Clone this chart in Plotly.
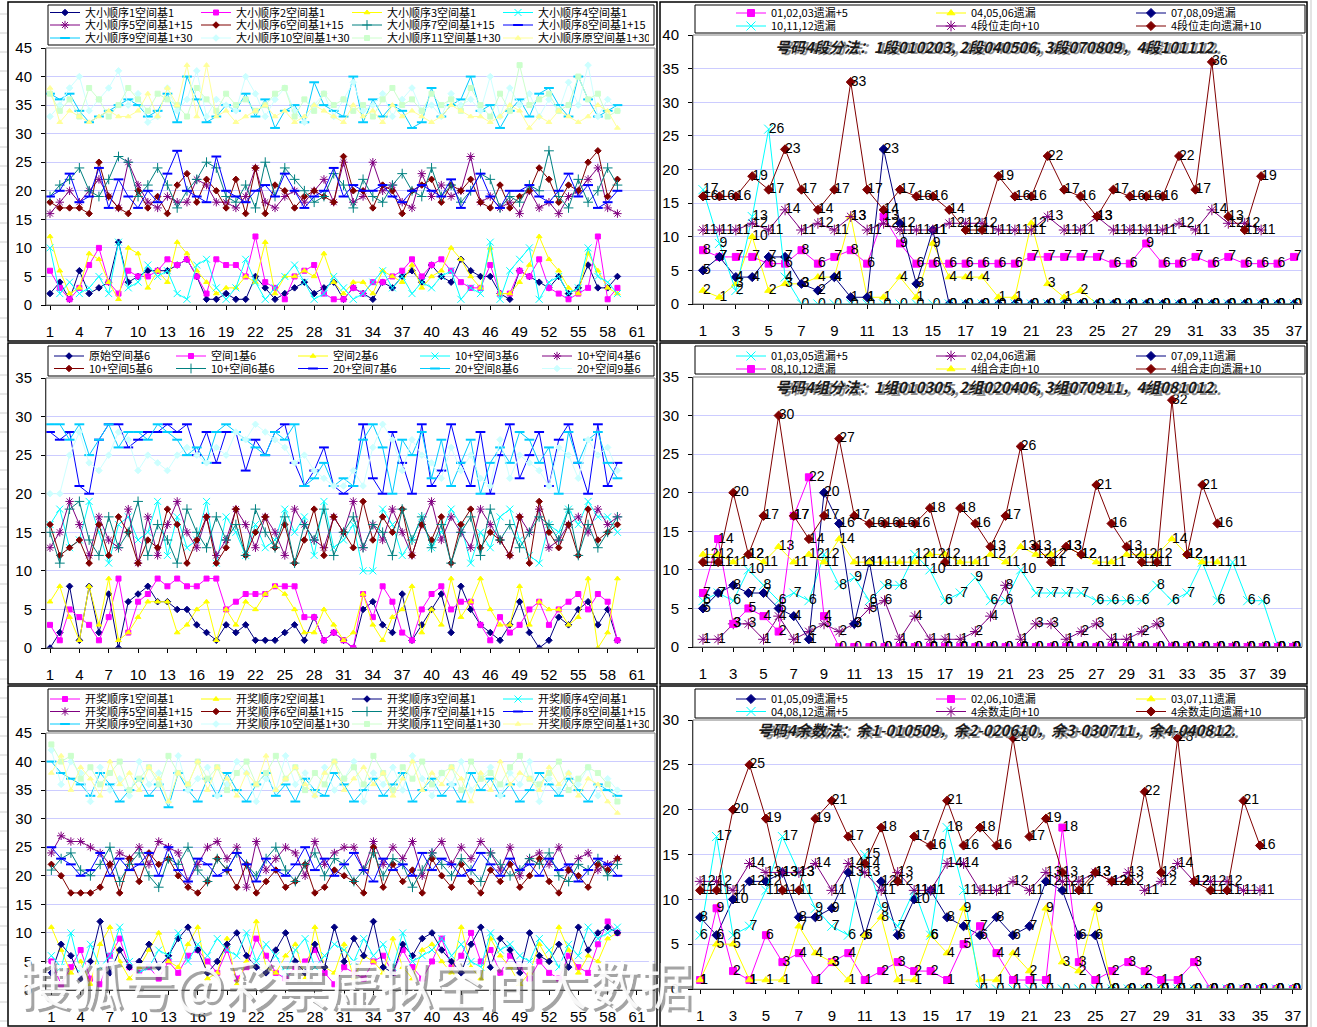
import plotly.graph_objects as go

W, H = 1317, 1027

# ----------------------------- DATA -----------------------------
# Top-left: 大小顺序
TL_NAMES = ["大小顺序1空间基1", "大小顺序2空间基1", "大小顺序3空间基1", "大小顺序4空间基1",
            "大小顺序5空间基1+15", "大小顺序6空间基1+15", "大小顺序7空间基1+15", "大小顺序8空间基1+15",
            "大小顺序9空间基1+30", "大小顺序10空间基1+30", "大小顺序11空间基1+30", "大小顺序原空间基1+30"]
TL_S1 = [2,4,1,6,2,3,4,11,4,5,6,6,6,7,8,5,1,1,2,1,1,5,3,1,2,3,4,2,3,4,1,3,2,1,4,3,5,6,4,7,5,4,8,6,5,5,2,1,6,5,4,3,5,2,3,7,3,3,5]
TL_S2 = [6,3,1,3,7,10,4,2,6,5,5,6,8,7,8,5,2,8,7,7,5,12,4,3,1,5,6,7,2,1,1,3,2,4,4,5,6,8,5,7,8,6,4,3,3,7,2,2,6,5,8,3,2,1,2,3,12,1,3]
TL_S3 = [12,6,2,3,9,8,4,1,10,9,3,6,4,11,9,6,4,2,3,3,5,4,11,2,5,5,6,5,9,4,2,4,4,2,6,5,4,7,3,5,6,10,8,5,3,10,2,2,4,7,12,8,6,3,2,9,6,3,2]
TL_S4 = [10,2,4,2,3,5,2,11,3,4,7,5,6,2,1,7,8,3,1,3,8,4,1,3,5,7,4,1,2,5,3,1,2,4,6,3,5,2,4,3,5,6,1,3,2,11,1,6,8,10,1,4,5,2,3,10,5,4,2]
TL_S5 = [16,18,20,18,20,22,19,17,25,21,18,17,19,18,18,22,21,18,18,17,19,24,18,17,19,20,18,20,22,18,25,18,19,25,20,21,18,17,23,19,21,19,20,26,18,19,17,18,16,20,17,18,16,19,20,22,24,17,16]
TL_S6 = [18,17,17,17,16,25,19,17,16,20,17,19,16,21,23,18,22,20,17,22,16,24,16,21,20,17,19,20,19,18,26,20,20,17,21,20,16,20,21,22,18,21,20,22,18,17,21,17,19,20,24,22,18,21,20,25,27,19,22]
TL_S7 = [19,21,22,24,20,19,22,26,25,19,21,24,21,17,20,22,25,24,19,18,21,17,25,19,24,22,20,18,19,23,21,17,22,19,18,21,23,20,19,24,19,21,18,20,23,22,17,19,18,21,20,27,19,17,22,18,20,24,21]
TL_S8 = [19,20,23,18,19,24,17,22,19,17,20,18,23,27,20,19,18,26,20,19,18,20,21,19,23,20,17,19,20,24,19,21,20,20,21,19,18,20,21,20,19,22,17,20,23,19,17,20,20,21,19,18,20,23,19,21,17,18,20]
TL_S9 = [37,36,37,34,32,33,34,35,36,35,33,34,37,32,40,36,32,33,35,34,37,33,36,31,34,35,32,39,35,34,33,40,32,36,33,35,34,31,32,38,33,35,36,40,34,35,31,34,36,33,37,38,35,33,40,36,33,34,35]
TL_S10 = [33,35,38,40,34,36,38,41,35,37,32,33,38,34,36,41,33,36,35,34,40,37,33,36,38,34,32,35,37,33,36,39,34,35,37,33,36,38,34,35,33,37,35,36,34,40,33,38,35,37,33,36,34,39,35,42,33,36,34]
TL_S11 = [37,34,36,33,38,36,33,35,38,36,34,37,36,35,33,38,36,34,37,35,36,34,35,37,38,33,36,34,37,35,36,34,35,33,36,38,35,36,34,37,35,36,34,38,35,33,37,34,42,35,36,37,34,35,40,36,37,33,34]
TL_S12 = [38,32,34,33,32,33,34,33,33,34,37,33,38,35,42,33,42,33,34,32,33,34,35,33,34,32,33,35,34,33,32,35,33,34,32,35,33,34,33,32,33,35,34,33,33,32,33,35,34,31,33,32,34,33,32,33,35,34,31]

# Middle-left: 空间基6
ML_NAMES = ["原始空间基6", "空间1基6", "空间2基6", "10+空间3基6", "10+空间4基6",
            "10+空间5基6", "10+空间6基6", "20+空间7基6", "20+空间8基6", "20+空间9基6"]
ML_S1 = [0,2,8,1,8,2,7,0,6,7,8,6,6,5,5,3,2,1,3,2,3,1,1,1,2,3,1,4,1,2,1,0,5,6,3,2,7,1,3,5,7,2,8,5,3,2,1,3,6,2,0,1,4,3,5,6,3,5,1]
ML_S2 = [3,1,5,4,3,1,4,9,2,6,7,9,8,9,8,8,9,9,5,6,7,7,7,8,8,8,4,4,1,2,1,0,7,4,8,6,2,1,5,7,8,5,6,6,3,1,4,2,3,5,6,3,5,6,7,5,7,6,1]
ML_S3 = [6,8,4,1,8,3,9,1,2,4,6,6,6,2,3,5,6,1,5,3,6,5,7,8,7,5,2,2,5,3,1,2,7,3,1,4,5,8,2,5,3,9,4,6,9,5,3,3,8,3,6,5,5,3,4,9,0,2,9]
ML_S4 = [16,18,13,14,19,15,11,16,17,14,15,19,12,17,13,14,19,11,17,15,12,16,13,14,18,15,17,12,19,13,14,16,10,10,18,16,12,14,17,13,15,18,16,11,15,13,17,18,14,12,11,16,15,18,16,19,17,17,15]
ML_S5 = [13,15,19,16,12,17,14,13,18,11,17,12,16,19,15,13,17,12,14,18,16,13,17,15,12,18,16,14,13,17,15,19,13,16,14,18,15,12,16,19,14,17,15,13,18,16,14,12,17,15,18,13,14,16,17,15,18,16,17]
ML_S6 = [16,12,13,14,11,16,12,17,15,11,14,13,18,16,11,14,17,11,13,18,12,15,17,13,16,11,14,18,12,17,15,13,19,14,17,15,18,12,16,14,17,11,16,18,13,15,14,12,17,11,19,15,13,16,12,18,14,15,16]
ML_S7 = [15,11,18,19,14,12,17,13,15,19,12,16,14,11,18,15,13,17,14,16,12,18,15,13,17,11,16,14,18,12,15,17,13,16,15,12,18,14,17,13,16,11,15,17,12,18,14,16,13,15,17,16,14,18,12,16,13,15,17]
ML_S8 = [28,27,28,21,20,27,29,29,26,27,28,28,29,28,29,25,28,24,28,28,23,27,25,28,29,24,21,23,26,21,20,21,29,22,20,28,24,20,29,21,23,29,24,21,28,20,25,29,22,25,28,21,27,29,24,20,29,21,24]
ML_S9 = [29,29,27,29,25,27,29,26,28,28,27,29,28,27,25,26,24,28,29,28,27,26,25,28,27,29,21,22,24,21,22,21,27,29,26,20,27,25,28,22,27,21,24,27,20,24,26,24,28,27,24,26,20,28,24,27,28,24,22]
ML_S10 = [20,20,25,28,24,23,25,28,27,23,25,24,23,25,26,25,24,26,25,28,27,29,28,27,26,24,25,23,22,21,21,23,21,26,29,27,23,27,25,24,22,26,23,25,22,21,27,22,25,24,23,21,26,25,22,27,25,26,23]

# Bottom-left: 开奖顺序
BL_NAMES = ["开奖顺序1空间基1", "开奖顺序2空间基1", "开奖顺序3空间基1", "开奖顺序4空间基1",
            "开奖顺序5空间基1+15", "开奖顺序6空间基1+15", "开奖顺序7空间基1+15", "开奖顺序8空间基1+15",
            "开奖顺序9空间基1+30", "开奖顺序10空间基1+30", "开奖顺序11空间基1+30", "开奖顺序原空间基1+30"]
BL_S1 = [5,1,4,7,2,1,6,9,4,3,4,2,5,3,6,7,5,3,7,2,4,9,6,3,2,4,5,7,3,1,4,3,2,5,6,3,7,4,2,5,9,4,6,10,5,7,3,6,4,2,5,3,2,6,4,3,8,12,10]
BL_S2 = [11,7,3,5,1,8,11,5,2,4,7,10,5,4,8,11,2,3,9,1,5,12,4,3,6,8,2,11,4,3,8,2,6,5,3,9,4,2,7,8,5,3,11,4,2,9,6,4,1,3,8,5,11,7,3,6,5,9,10]
BL_S3 = [3,8,6,2,5,12,3,7,4,5,8,4,6,9,11,7,3,5,8,10,6,4,3,7,10,5,3,8,4,11,5,9,6,12,4,3,8,6,9,10,7,5,3,8,11,4,9,7,3,10,6,5,8,4,11,7,10,11,10]
BL_S4 = [6,4,10,3,8,4,6,11,5,3,4,7,6,10,5,8,6,9,7,6,10,5,8,6,3,7,9,4,6,8,7,5,9,6,8,4,10,5,6,7,9,6,8,5,4,10,7,8,6,5,9,7,4,8,6,11,9,10,11]
BL_S5 = [24,27,26,26,25,24,22,24,23,25,22,26,25,24,19,22,25,26,23,25,18,26,21,23,25,24,20,26,22,24,25,25,21,26,22,25,23,26,20,24,26,22,25,23,26,24,21,25,20,23,24,22,25,21,23,24,21,22,23]
BL_S6 = [22,20,17,17,17,18,22,17,23,19,24,22,23,20,18,17,19,23,21,18,22,17,19,21,18,19,22,17,18,21,20,19,17,25,18,22,19,21,17,23,20,18,22,19,17,21,19,22,18,20,23,19,17,21,20,18,22,21,23]
BL_S7 = [21,23,24,21,20,22,25,19,22,24,20,18,23,22,25,21,19,23,21,24,22,20,23,25,21,19,22,24,20,23,22,19,21,24,20,23,22,18,21,24,22,20,23,21,19,24,22,20,21,23,22,24,20,19,22,21,23,20,22]
BL_S8 = [25,23,22,20,21,24,20,23,21,22,24,20,25,21,19,23,22,20,21,24,22,19,23,21,20,22,25,21,23,20,22,24,21,19,23,21,22,20,24,21,23,22,20,21,24,22,20,23,21,22,20,23,21,22,19,21,23,22,20]
BL_S9 = [40,38,37,36,34,38,36,33,35,37,34,36,32,38,35,33,37,34,38,35,33,36,38,34,36,33,37,35,34,38,36,33,35,37,34,36,38,33,35,37,34,36,33,38,35,37,34,36,33,35,38,36,34,37,35,33,36,35,34]
BL_S10 = [42,36,40,38,33,39,35,37,34,40,36,38,33,41,35,37,39,34,36,40,38,33,37,35,41,36,38,34,39,35,37,40,33,38,36,39,35,41,37,34,38,36,40,35,37,39,34,38,36,40,33,37,35,38,36,39,34,37,35]
BL_S11 = [43,40,41,37,39,36,38,40,35,37,39,36,41,38,36,40,37,39,35,38,40,36,38,41,37,39,35,38,36,40,37,39,36,41,38,35,39,37,40,36,38,39,35,40,37,38,36,39,41,37,36,38,40,35,37,39,38,36,33]
BL_S12 = [38,41,35,39,37,34,40,36,38,35,39,37,33,38,36,40,35,39,37,34,38,36,41,35,37,39,36,34,38,40,35,37,39,36,38,34,37,40,35,38,36,39,37,33,38,35,40,36,38,37,35,39,36,38,34,37,36,33,31]

# Top-right: 号码4段分法
TR_NAMES = ["01,02,03遗漏+5", "04,05,06遗漏", "07,08,09遗漏", "10,11,12遗漏", "4段位走向+10", "4段位走向遗漏+10"]
TR_A = [8,7,7,7,6,6,8,6,7,8,6,13,9,6,6,6,6,6,6,6,7,7,7,7,7,6,6,9,6,6,7,6,7,6,6,6,7]
TR_B = [2,1,3,10,2,3,3,4,4,13,1,1,4,1,9,4,4,4,1,1,12,3,1,2,0,0,0,0,0,0,0,0,0,0,0,0,0]
TR_C = [5,7,4,4,7,7,3,2,4,1,1,23,12,3,11,0,0,0,0,0,0,0,0,0,0,0,0,0,0,0,0,0,0,0,0,0,0]
TR_D = [17,9,2,13,26,4,0,0,0,0,0,0,0,0,0,0,0,0,0,0,0,0,0,0,0,0,0,0,0,0,0,0,0,0,0,0,0]
TR_E = [11,11,11,12,11,14,11,12,11,13,11,12,11,11,11,12,12,12,11,11,11,13,11,11,13,11,11,11,11,12,11,14,12,12,11]
TR_F = [16,16,16,19,17,23,17,14,17,33,17,14,17,16,16,14,11,11,19,16,16,22,17,16,13,17,16,16,16,22,17,36,13,11,19]

# Middle-right: 号码4组分法
MR_NAMES = ["01,03,05遗漏+5", "02,04,06遗漏", "07,09,11遗漏", "08,10,12遗漏", "4组合走向+10", "4组合走向遗漏+10"]
MR_A = [6,7,6,10,8,6,7,6,12,8,9,6,8,8,12,10,6,7,9,6,6,10,7,7,7,7,6,6,6,6,8,6,7,11,6,11,6,6,0,0]
MR_B = [1,1,3,3,1,4,1,2,3,2,3,5,6,1,4,1,1,1,2,4,8,1,3,3,1,2,3,1,1,2,3,0,0,0,0,0,0,0,0,0]
MR_C = [5,7,8,7,7,5,4,1,20,16,3,11,0,0,0,0,0,0,0,0,0,0,0,0,0,0,0,0,0,0,0,0,0,0,0,0,0,0,0,0]
MR_D = [7,14,3,5,4,2,17,22,4,0,0,0,0,0,0,0,0,0,0,0,0,0,0,0,0,0,0,0,0,0,0,0,0,0,0,0,0,0,0,0]
MR_E = [12,12,11,12,11,13,11,12,11,14,11,11,11,11,11,12,12,11,11,12,11,13,12,12,13,12,11,11,12,12,12,14,12,11,11]
MR_F = [11,11,20,12,17,30,17,14,17,27,17,16,16,16,16,18,11,18,16,13,17,26,13,11,13,12,21,16,13,11,11,32,12,21,16]

# Bottom-right: 号码4余数法
BR_NAMES = ["01,05,09遗漏+5", "02,06,10遗漏", "03,07,11遗漏", "04,08,12遗漏+5", "4余数走向+10", "4余数走向遗漏+10"]
BR_A = [8,6,10,12,12,13,8,8,9,13,6,12,6,10,11,8,7,6,8,6,7,12,11,6,6,0,0,0,0,0,0,0,0,0,0,0,0]
BR_B = [1,9,2,1,6,3,4,1,3,4,1,2,3,2,2,1,5,7,4,1,1,1,18,3,1,2,3,2,1,1,3,0,0,0,0,0,0]
BR_C = [1,5,5,1,1,1,7,4,3,1,6,8,1,1,6,4,9,1,1,4,2,9,3,2,9,0,0,0,0,0,0,0,0,0,0,0,0]
BR_D = [6,17,6,7,11,17,13,9,7,6,15,9,7,11,6,18,11,0,0,0,0,0,0,0,0,0,0,0,0,0,0,0,0,0,0,0,0]
BR_E = [12,12,11,14,13,13,13,14,11,14,13,11,13,11,11,14,14,11,11,12,11,13,12,12,13,12,13,11,12,14,12,12,12,11,11]
BR_F = [11,11,20,25,19,11,11,19,21,17,14,18,12,17,16,21,16,18,16,28,17,19,13,11,13,12,12,22,13,28,12,11,11,21,16]

TITLE_TR = "号码4段分法：1段010203, 2段040506, 3段070809，4段101112."
TITLE_MR = "号码4组分法：1组010305, 2组020406, 3组070911，4组081012."
TITLE_BR = "号码4余数法：余1-010509，余2-020610，余3-030711，余4-040812."
WATERMARK = "搜狐号@彩票虚拟空间大数据"

# ----------------------------- STYLE -----------------------------
NAVY, MAG, YEL, CYA = "#000080", "#FF00FF", "#FFFF00", "#00FFFF"
PUR, DRED, TEAL, BLUE = "#800080", "#800000", "#008080", "#0000FF"
SKY, LCYA, LGRN, LYEL = "#00CCFF", "#CCFFFF", "#CCFFCC", "#FFFF99"
ST = {NAVY: "diamond", MAG: "square", YEL: "triangle-up", CYA: "x-thin",
      PUR: "asterisk", DRED: "diamond", TEAL: "cross-thin", BLUE: "line-ew",
      SKY: "line-ew", LCYA: "diamond", LGRN: "square", LYEL: "triangle-up"}

CJK = "Noto Sans CJK SC"
NUMF = "Liberation Sans"


def px(x):
    return x / W


def py(y):
    return 1 - y / H


fig = go.Figure()


def add(xa, ya, ys, name, color, legend, msize=5, lw=1):
    sym = ST[color]
    lwm = 2 if sym == "line-ew" else 1
    fig.add_trace(go.Scatter(
        x=list(range(1, len(ys) + 1)), y=ys, name=name, mode="lines+markers",
        line=dict(color=color, width=lw),
        marker=dict(symbol=sym, size=msize + (2 if sym in ("line-ew", "x-thin", "asterisk", "cross-thin") else 0),
                    color=color, line=dict(color=color, width=lwm)),
        xaxis=xa, yaxis=ya, legend=legend, hoverinfo="skip"))


def add_labels(xa, ya, ys):
    fig.add_trace(go.Scatter(
        x=list(range(1, len(ys) + 1)), y=ys, mode="text", text=[str(v) for v in ys],
        textposition="middle right", textfont=dict(family=NUMF, size=14, color="black"),
        xaxis=xa, yaxis=ya, showlegend=False, hoverinfo="skip"))


# Top-left
tl = [TL_S1, TL_S2, TL_S3, TL_S4, TL_S5, TL_S6, TL_S7, TL_S8, TL_S9, TL_S10, TL_S11, TL_S12]
tl_c = [NAVY, MAG, YEL, CYA, PUR, DRED, TEAL, BLUE, SKY, LCYA, LGRN, LYEL]
for i, (s, c) in enumerate(zip(tl, tl_c)):
    add("x", "y", s, TL_NAMES[i], c, ["legend", "legend2", "legend3"][i // 4])

# Top-right
tr = [TR_A, TR_B, TR_C, TR_D, TR_E, TR_F]
tr_c = [MAG, YEL, NAVY, CYA, PUR, DRED]
for i, (s, c) in enumerate(zip(tr, tr_c)):
    add("x2", "y2", s, TR_NAMES[i], c, ["legend4", "legend5"][i // 3], msize=7)
for s in tr:
    add_labels("x2", "y2", s)

# Middle-left
ml = [ML_S1, ML_S2, ML_S3, ML_S4, ML_S5, ML_S6, ML_S7, ML_S8, ML_S9, ML_S10]
ml_c = [NAVY, MAG, YEL, CYA, PUR, DRED, TEAL, BLUE, SKY, LCYA]
for i, (s, c) in enumerate(zip(ml, ml_c)):
    add("x3", "y3", s, ML_NAMES[i], c, ["legend6", "legend7"][i // 5])

# Middle-right
mr = [MR_A, MR_B, MR_C, MR_D, MR_E, MR_F]
mr_c = [CYA, PUR, NAVY, MAG, YEL, DRED]
for i, (s, c) in enumerate(zip(mr, mr_c)):
    add("x4", "y4", s, MR_NAMES[i], c, ["legend8", "legend9"][i // 3], msize=7)
for s in mr:
    add_labels("x4", "y4", s)

# Bottom-left
bl = [BL_S1, BL_S2, BL_S3, BL_S4, BL_S5, BL_S6, BL_S7, BL_S8, BL_S9, BL_S10, BL_S11, BL_S12]
bl_c = [MAG, YEL, NAVY, CYA, PUR, DRED, TEAL, BLUE, SKY, LCYA, LGRN, LYEL]
for i, (s, c) in enumerate(zip(bl, bl_c)):
    add("x5", "y5", s, BL_NAMES[i], c, ["legend10", "legend11", "legend12"][i // 4])

# Bottom-right
br = [BR_A, BR_B, BR_C, BR_D, BR_E, BR_F]
br_c = [NAVY, MAG, YEL, CYA, PUR, DRED]
for i, (s, c) in enumerate(zip(br, br_c)):
    add("x6", "y6", s, BR_NAMES[i], c, ["legend13", "legend14"][i // 3], msize=7)
for s in br:
    add_labels("x6", "y6", s)

# ----------------------------- AXES -----------------------------
TICKF = dict(family=NUMF, size=15, color="black")


def xcfg(x0, x1, rng, dtick, anchor):
    return dict(domain=[px(x0), px(x1)], range=rng, tickmode="linear", tick0=1, dtick=dtick,
                showgrid=False, zeroline=False, showline=True, linecolor="black", linewidth=1,
                ticks="outside", ticklen=4, tickcolor="black", tickfont=TICKF,
                ticklabelstandoff=9, anchor=anchor, fixedrange=True)


def ycfg(y0, y1, rng, anchor):
    return dict(domain=[py(y1), py(y0)], range=rng, tickmode="linear", tick0=0, dtick=5,
                showgrid=True, gridcolor="#CCCCFF", gridwidth=1, zeroline=False,
                showline=True, linecolor="black", linewidth=1, ticks="outside", ticklen=4,
                tickcolor="black", tickfont=TICKF, ticklabelstandoff=6, anchor=anchor, fixedrange=True)


PLOTS = {
    # name: (x0, x1, y0, y1, xrange, dtick, yrange)
    "1": (46, 655, 48, 305, [0.59, 62.84], 3, [0, 45]),
    "2": (693, 1302, 35, 304, [0.39, 37.49], 2, [0, 40]),
    "3": (46, 655, 378, 648, [0.59, 62.84], 3, [0, 35]),
    "4": (693, 1302, 377, 647, [0.34, 40.59], 2, [0, 35]),
    "5": (46, 655, 733, 990, [0.45, 62.85], 3, [0, 45]),
    "6": (693, 1302, 720, 989, [0.57, 37.55], 2, [0, 30]),
}
lay = {}
shapes = []
for k, (x0, x1, y0, y1, xr, dt, yr) in PLOTS.items():
    xn = "xaxis" if k == "1" else "xaxis" + k
    yn = "yaxis" if k == "1" else "yaxis" + k
    lay[xn] = xcfg(x0, x1, xr, dt, "y" if k == "1" else "y" + k)
    lay[yn] = ycfg(y0, y1, yr, "x" if k == "1" else "x" + k)
    shapes.append(dict(type="rect", xref="paper", yref="paper", x0=px(x0), x1=px(x1),
                       y0=py(y1), y1=py(y0), line=dict(color="#808080", width=1), layer="above"))

# panel frames
for (x0, y0, x1, y1) in [(8, 2, 657, 341), (8, 343, 657, 684), (8, 686, 657, 1026),
                         (660, 2, 1307, 341), (660, 343, 1307, 684), (660, 686, 1307, 1026)]:
    shapes.append(dict(type="rect", xref="paper", yref="paper", x0=px(x0), x1=px(x1),
                       y0=py(y1), y1=py(y0), line=dict(color="black", width=1.5), layer="below",
                       fillcolor="white"))
# legend boxes
for (x0, y0, x1, y1) in [(48, 5, 654, 45), (48, 346, 654, 376), (48, 689, 654, 731),
                         (695, 5, 1305, 33), (695, 346, 1305, 374), (695, 689, 1305, 718)]:
    shapes.append(dict(type="rect", xref="paper", yref="paper", x0=px(x0), x1=px(x1),
                       y0=py(y1), y1=py(y0), line=dict(color="black", width=1),
                       fillcolor="white", layer="above"))
# spreadsheet gridlines at page edges
for yy in range(14, 1027, 19):
    shapes.append(dict(type="line", xref="paper", yref="paper", x0=0, x1=px(7), y0=py(yy), y1=py(yy),
                       line=dict(color="#D0D0D0", width=1), layer="below"))
shapes.append(dict(type="line", xref="paper", yref="paper", x0=px(1311), x1=px(1311), y0=0, y1=1,
                   line=dict(color="#C8C8C8", width=1), layer="below"))

# legends
LEGF = dict(family=CJK, size=11, color="black")
LEG = {
    "legend": (45, 12.5, 106), "legend2": (45, 25, 106), "legend3": (45, 38, 106),
    "legend4": (731, 13, 155), "legend5": (731, 26, 155),
    "legend6": (49, 356, 77), "legend7": (49, 368.5, 77),
    "legend8": (731, 356, 155), "legend9": (731, 369, 155),
    "legend10": (45, 699, 106), "legend11": (45, 711.5, 106), "legend12": (45, 724, 106),
    "legend13": (731, 699, 155), "legend14": (731, 711.5, 155),
}
for name, (lx, ly, ew) in LEG.items():
    lay[name] = dict(x=px(lx), y=py(ly), xanchor="left", yanchor="middle", orientation="h",
                     bgcolor="rgba(0,0,0,0)", borderwidth=0, font=LEGF, itemwidth=30,
                     entrywidth=ew, entrywidthmode="pixels", tracegroupgap=0, itemclick=False)

# titles
annotations = []
for (txt, yy) in [(TITLE_TR, 46), (TITLE_MR, 386), (TITLE_BR, 729)]:
    annotations.append(dict(text="<b><i>" + txt + "</i></b>", x=px(999), y=py(yy + 2), xref="paper",
                            yref="paper", showarrow=False, xanchor="center", yanchor="middle",
                            font=dict(family=CJK, size=15, color="#8A8A8A")))
    annotations.append(dict(text="<b><i>" + txt + "</i></b>", x=px(997), y=py(yy), xref="paper",
                            yref="paper", showarrow=False, xanchor="center", yanchor="middle",
                            font=dict(family=CJK, size=15, color="#1A1A1A")))
# watermark
annotations.append(dict(text=WATERMARK, x=px(358), y=py(985), xref="paper", yref="paper",
                        showarrow=False, xanchor="center", yanchor="middle",
                        font=dict(family=CJK, size=52, color="rgba(90,90,90,0.55)")))
annotations.append(dict(text=WATERMARK, x=px(355), y=py(982), xref="paper", yref="paper",
                        showarrow=False, xanchor="center", yanchor="middle",
                        font=dict(family=CJK, size=52, color="rgba(255,255,255,0.92)")))

fig.update_layout(width=W, height=H, margin=dict(l=0, r=0, t=0, b=0, pad=0, autoexpand=False),
                  autosize=False, paper_bgcolor="white", plot_bgcolor="#C0C0C0", shapes=shapes,
                  annotations=annotations, hovermode=False, **lay)

fig.write_html("out.html", config={"displayModeBar": False, "staticPlot": True},
               post_script="document.body.style.margin='0';document.body.style.overflow='hidden';")
